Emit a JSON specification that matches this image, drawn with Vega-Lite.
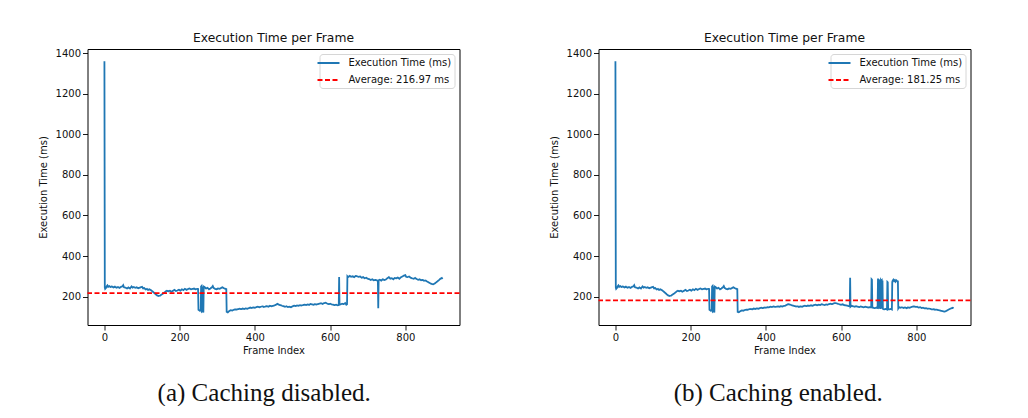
{
  "$schema": "https://vega.github.io/schema/vega-lite/v6.json",
  "padding": {"left": 37.5, "top": 31, "right": 0, "bottom": 0},
  "background": "white",
  "config": {
    "font": "DejaVu Sans",
    "view": {"stroke": "black", "strokeWidth": 1},
    "axis": {"grid": false, "domain": false, "tickColor": "black", "tickSize": 5, "tickWidth": 0.9,
      "labelFont": "DejaVu Sans", "labelFontSize": 10, "labelColor": "#111", "labelPadding": 2,
      "titleFont": "DejaVu Sans", "titleFontSize": 10, "titleFontWeight": "normal", "titleColor": "#111",
      "labelFlush": false, "labelOverlap": false},
    "axisX": {"titlePadding": 3},
    "axisY": {"titlePadding": 7, "format": "d"},
    "title": {"font": "DejaVu Sans", "fontSize": 12.3, "fontWeight": "normal", "color": "#111", "offset": 4},
    "legend": {"orient": "top-right", "offset": 5, "padding": 3, "cornerRadius": 3, "strokeColor": "#d6d6d6",
      "fillColor": "white", "symbolType": "M-2.2,0H2.2", "symbolSize": 100, "symbolStrokeWidth": 1.8,
      "labelFont": "DejaVu Sans", "labelFontSize": 10, "labelColor": "#111", "labelOffset": 14, "rowPadding": 6}
  },
  "datasets": {
    "a": [
      {"frame":0,"ms":1360},{"frame":1,"ms":245},{"frame":2,"ms":238},{"frame":4,"ms":242},{"frame":6,"ms":250},{"frame":8,"ms":255},{"frame":10,"ms":248},{"frame":13,"ms":252},{"frame":16,"ms":247},{"frame":20,"ms":250},{"frame":24,"ms":245},{"frame":28,"ms":249},{"frame":32,"ms":244},{"frame":36,"ms":247},{"frame":40,"ms":243},{"frame":44,"ms":248},{"frame":48,"ms":251},{"frame":50,"ms":256},{"frame":52,"ms":246},{"frame":56,"ms":244},{"frame":60,"ms":240},{"frame":64,"ms":245},{"frame":68,"ms":240},{"frame":72,"ms":250},{"frame":75,"ms":244},{"frame":78,"ms":247},{"frame":82,"ms":243},{"frame":86,"ms":246},{"frame":90,"ms":241},{"frame":94,"ms":244},{"frame":98,"ms":247},{"frame":100,"ms":248},{"frame":103,"ms":240},{"frame":106,"ms":242},{"frame":110,"ms":235},{"frame":113,"ms":238},{"frame":116,"ms":233},{"frame":120,"ms":236},{"frame":124,"ms":231},{"frame":128,"ms":225},{"frame":132,"ms":219},{"frame":136,"ms":212},{"frame":140,"ms":206},{"frame":144,"ms":203},{"frame":148,"ms":205},{"frame":152,"ms":210},{"frame":156,"ms":215},{"frame":160,"ms":221},{"frame":163,"ms":226},{"frame":166,"ms":229},{"frame":170,"ms":226},{"frame":174,"ms":229},{"frame":178,"ms":224},{"frame":182,"ms":228},{"frame":186,"ms":233},{"frame":190,"ms":228},{"frame":194,"ms":230},{"frame":198,"ms":234},{"frame":202,"ms":229},{"frame":206,"ms":236},{"frame":210,"ms":232},{"frame":214,"ms":238},{"frame":218,"ms":233},{"frame":222,"ms":237},{"frame":226,"ms":240},{"frame":230,"ms":236},{"frame":234,"ms":238},{"frame":238,"ms":240},{"frame":242,"ms":236},{"frame":246,"ms":238},{"frame":249,"ms":237},{"frame":250,"ms":135},{"frame":252,"ms":133},{"frame":254,"ms":130},{"frame":256,"ms":134},{"frame":257,"ms":250},{"frame":258,"ms":252},{"frame":259,"ms":128},{"frame":260,"ms":130},{"frame":261,"ms":250},{"frame":262,"ms":126},{"frame":263,"ms":122},{"frame":264,"ms":250},{"frame":266,"ms":248},{"frame":270,"ms":240},{"frame":274,"ms":243},{"frame":278,"ms":236},{"frame":282,"ms":240},{"frame":286,"ms":247},{"frame":288,"ms":252},{"frame":290,"ms":243},{"frame":294,"ms":238},{"frame":298,"ms":236},{"frame":302,"ms":240},{"frame":306,"ms":238},{"frame":310,"ms":242},{"frame":314,"ms":246},{"frame":318,"ms":241},{"frame":322,"ms":238},{"frame":324,"ms":237},{"frame":325,"ms":125},{"frame":328,"ms":122},{"frame":332,"ms":129},{"frame":336,"ms":133},{"frame":340,"ms":131},{"frame":344,"ms":135},{"frame":348,"ms":137},{"frame":352,"ms":136},{"frame":356,"ms":138},{"frame":360,"ms":140},{"frame":364,"ms":138},{"frame":368,"ms":141},{"frame":372,"ms":139},{"frame":376,"ms":142},{"frame":380,"ms":140},{"frame":384,"ms":143},{"frame":388,"ms":146},{"frame":392,"ms":144},{"frame":396,"ms":147},{"frame":400,"ms":145},{"frame":404,"ms":148},{"frame":408,"ms":150},{"frame":412,"ms":147},{"frame":416,"ms":150},{"frame":420,"ms":152},{"frame":424,"ms":149},{"frame":428,"ms":151},{"frame":432,"ms":153},{"frame":436,"ms":150},{"frame":440,"ms":155},{"frame":444,"ms":152},{"frame":448,"ms":154},{"frame":452,"ms":156},{"frame":456,"ms":160},{"frame":460,"ms":164},{"frame":464,"ms":160},{"frame":468,"ms":158},{"frame":472,"ms":155},{"frame":476,"ms":153},{"frame":480,"ms":150},{"frame":484,"ms":152},{"frame":488,"ms":148},{"frame":492,"ms":150},{"frame":496,"ms":147},{"frame":500,"ms":152},{"frame":504,"ms":155},{"frame":508,"ms":153},{"frame":512,"ms":156},{"frame":516,"ms":155},{"frame":520,"ms":158},{"frame":524,"ms":156},{"frame":528,"ms":158},{"frame":532,"ms":160},{"frame":536,"ms":158},{"frame":540,"ms":161},{"frame":544,"ms":159},{"frame":548,"ms":164},{"frame":552,"ms":162},{"frame":556,"ms":160},{"frame":560,"ms":163},{"frame":564,"ms":161},{"frame":568,"ms":163},{"frame":572,"ms":165},{"frame":576,"ms":167},{"frame":580,"ms":164},{"frame":584,"ms":168},{"frame":588,"ms":170},{"frame":592,"ms":166},{"frame":596,"ms":163},{"frame":600,"ms":165},{"frame":604,"ms":162},{"frame":608,"ms":160},{"frame":612,"ms":158},{"frame":616,"ms":160},{"frame":620,"ms":157},{"frame":623,"ms":158},{"frame":624,"ms":296},{"frame":625,"ms":160},{"frame":628,"ms":162},{"frame":632,"ms":165},{"frame":636,"ms":163},{"frame":640,"ms":168},{"frame":643,"ms":160},{"frame":645,"ms":162},{"frame":646,"ms":300},{"frame":648,"ms":296},{"frame":652,"ms":302},{"frame":656,"ms":298},{"frame":660,"ms":300},{"frame":664,"ms":296},{"frame":668,"ms":302},{"frame":672,"ms":300},{"frame":676,"ms":297},{"frame":680,"ms":299},{"frame":684,"ms":293},{"frame":688,"ms":296},{"frame":692,"ms":290},{"frame":696,"ms":293},{"frame":700,"ms":288},{"frame":704,"ms":286},{"frame":708,"ms":282},{"frame":712,"ms":285},{"frame":716,"ms":280},{"frame":720,"ms":282},{"frame":724,"ms":280},{"frame":727,"ms":278},{"frame":728,"ms":143},{"frame":729,"ms":280},{"frame":732,"ms":283},{"frame":736,"ms":279},{"frame":740,"ms":285},{"frame":744,"ms":282},{"frame":748,"ms":284},{"frame":752,"ms":290},{"frame":756,"ms":296},{"frame":760,"ms":288},{"frame":764,"ms":290},{"frame":768,"ms":285},{"frame":772,"ms":292},{"frame":776,"ms":290},{"frame":780,"ms":294},{"frame":784,"ms":288},{"frame":788,"ms":295},{"frame":792,"ms":299},{"frame":796,"ms":303},{"frame":800,"ms":306},{"frame":802,"ms":298},{"frame":806,"ms":296},{"frame":810,"ms":299},{"frame":814,"ms":293},{"frame":818,"ms":290},{"frame":822,"ms":288},{"frame":826,"ms":292},{"frame":830,"ms":287},{"frame":834,"ms":283},{"frame":838,"ms":285},{"frame":842,"ms":280},{"frame":846,"ms":282},{"frame":850,"ms":278},{"frame":854,"ms":279},{"frame":858,"ms":274},{"frame":862,"ms":270},{"frame":866,"ms":266},{"frame":870,"ms":262},{"frame":874,"ms":260},{"frame":878,"ms":264},{"frame":882,"ms":270},{"frame":886,"ms":276},{"frame":890,"ms":282},{"frame":894,"ms":289},{"frame":897,"ms":292},{"frame":899,"ms":287}
    ],
    "b": [
      {"frame":0,"ms":1360},{"frame":1,"ms":245},{"frame":2,"ms":238},{"frame":4,"ms":242},{"frame":6,"ms":250},{"frame":8,"ms":255},{"frame":10,"ms":248},{"frame":13,"ms":252},{"frame":16,"ms":247},{"frame":20,"ms":250},{"frame":24,"ms":245},{"frame":28,"ms":249},{"frame":32,"ms":244},{"frame":36,"ms":247},{"frame":40,"ms":243},{"frame":44,"ms":248},{"frame":48,"ms":251},{"frame":50,"ms":256},{"frame":52,"ms":246},{"frame":56,"ms":244},{"frame":60,"ms":240},{"frame":64,"ms":245},{"frame":68,"ms":240},{"frame":72,"ms":250},{"frame":75,"ms":244},{"frame":78,"ms":247},{"frame":82,"ms":243},{"frame":86,"ms":246},{"frame":90,"ms":241},{"frame":94,"ms":244},{"frame":98,"ms":247},{"frame":100,"ms":248},{"frame":103,"ms":240},{"frame":106,"ms":242},{"frame":110,"ms":235},{"frame":113,"ms":238},{"frame":116,"ms":233},{"frame":120,"ms":236},{"frame":124,"ms":231},{"frame":128,"ms":225},{"frame":132,"ms":219},{"frame":136,"ms":212},{"frame":140,"ms":206},{"frame":144,"ms":203},{"frame":148,"ms":205},{"frame":152,"ms":210},{"frame":156,"ms":215},{"frame":160,"ms":221},{"frame":163,"ms":226},{"frame":166,"ms":229},{"frame":170,"ms":226},{"frame":174,"ms":229},{"frame":178,"ms":224},{"frame":182,"ms":228},{"frame":186,"ms":233},{"frame":190,"ms":228},{"frame":194,"ms":230},{"frame":198,"ms":234},{"frame":202,"ms":229},{"frame":206,"ms":236},{"frame":210,"ms":232},{"frame":214,"ms":238},{"frame":218,"ms":233},{"frame":222,"ms":237},{"frame":226,"ms":240},{"frame":230,"ms":236},{"frame":234,"ms":238},{"frame":238,"ms":240},{"frame":242,"ms":236},{"frame":246,"ms":238},{"frame":249,"ms":237},{"frame":250,"ms":135},{"frame":252,"ms":133},{"frame":254,"ms":130},{"frame":256,"ms":134},{"frame":257,"ms":250},{"frame":258,"ms":252},{"frame":259,"ms":128},{"frame":260,"ms":130},{"frame":261,"ms":250},{"frame":262,"ms":126},{"frame":263,"ms":122},{"frame":264,"ms":250},{"frame":266,"ms":248},{"frame":270,"ms":240},{"frame":274,"ms":243},{"frame":278,"ms":236},{"frame":282,"ms":240},{"frame":286,"ms":247},{"frame":288,"ms":252},{"frame":290,"ms":243},{"frame":294,"ms":238},{"frame":298,"ms":236},{"frame":302,"ms":240},{"frame":306,"ms":238},{"frame":310,"ms":242},{"frame":314,"ms":246},{"frame":318,"ms":241},{"frame":322,"ms":238},{"frame":324,"ms":237},{"frame":325,"ms":125},{"frame":328,"ms":123},{"frame":332,"ms":128},{"frame":336,"ms":132},{"frame":340,"ms":130},{"frame":344,"ms":134},{"frame":348,"ms":136},{"frame":352,"ms":135},{"frame":356,"ms":138},{"frame":360,"ms":139},{"frame":364,"ms":137},{"frame":368,"ms":141},{"frame":372,"ms":139},{"frame":376,"ms":142},{"frame":380,"ms":140},{"frame":384,"ms":143},{"frame":388,"ms":145},{"frame":392,"ms":143},{"frame":396,"ms":146},{"frame":400,"ms":145},{"frame":404,"ms":148},{"frame":408,"ms":147},{"frame":412,"ms":150},{"frame":416,"ms":148},{"frame":420,"ms":151},{"frame":424,"ms":149},{"frame":428,"ms":150},{"frame":432,"ms":152},{"frame":436,"ms":150},{"frame":440,"ms":153},{"frame":444,"ms":151},{"frame":448,"ms":154},{"frame":452,"ms":155},{"frame":456,"ms":160},{"frame":460,"ms":163},{"frame":464,"ms":160},{"frame":468,"ms":158},{"frame":472,"ms":156},{"frame":476,"ms":153},{"frame":480,"ms":151},{"frame":484,"ms":152},{"frame":488,"ms":149},{"frame":492,"ms":152},{"frame":496,"ms":150},{"frame":500,"ms":153},{"frame":504,"ms":155},{"frame":508,"ms":153},{"frame":512,"ms":156},{"frame":516,"ms":154},{"frame":520,"ms":157},{"frame":524,"ms":155},{"frame":528,"ms":158},{"frame":532,"ms":160},{"frame":536,"ms":157},{"frame":540,"ms":160},{"frame":544,"ms":158},{"frame":548,"ms":162},{"frame":552,"ms":160},{"frame":556,"ms":158},{"frame":560,"ms":161},{"frame":564,"ms":160},{"frame":568,"ms":163},{"frame":572,"ms":165},{"frame":576,"ms":163},{"frame":580,"ms":166},{"frame":584,"ms":168},{"frame":588,"ms":167},{"frame":592,"ms":164},{"frame":596,"ms":162},{"frame":600,"ms":160},{"frame":604,"ms":162},{"frame":608,"ms":158},{"frame":612,"ms":157},{"frame":616,"ms":155},{"frame":620,"ms":153},{"frame":623,"ms":152},{"frame":624,"ms":293},{"frame":625,"ms":150},{"frame":628,"ms":155},{"frame":632,"ms":152},{"frame":636,"ms":150},{"frame":640,"ms":153},{"frame":644,"ms":150},{"frame":648,"ms":148},{"frame":652,"ms":151},{"frame":656,"ms":149},{"frame":660,"ms":147},{"frame":664,"ms":150},{"frame":668,"ms":148},{"frame":672,"ms":146},{"frame":676,"ms":148},{"frame":680,"ms":147},{"frame":681,"ms":285},{"frame":682,"ms":283},{"frame":683,"ms":146},{"frame":686,"ms":145},{"frame":690,"ms":143},{"frame":694,"ms":146},{"frame":697,"ms":144},{"frame":698,"ms":280},{"frame":699,"ms":278},{"frame":700,"ms":140},{"frame":701,"ms":281},{"frame":702,"ms":279},{"frame":703,"ms":142},{"frame":704,"ms":280},{"frame":705,"ms":139},{"frame":706,"ms":281},{"frame":707,"ms":278},{"frame":708,"ms":280},{"frame":709,"ms":141},{"frame":710,"ms":279},{"frame":711,"ms":140},{"frame":714,"ms":137},{"frame":718,"ms":139},{"frame":722,"ms":136},{"frame":723,"ms":272},{"frame":724,"ms":270},{"frame":725,"ms":138},{"frame":728,"ms":137},{"frame":732,"ms":139},{"frame":735,"ms":136},{"frame":736,"ms":272},{"frame":737,"ms":278},{"frame":739,"ms":283},{"frame":741,"ms":276},{"frame":743,"ms":281},{"frame":745,"ms":274},{"frame":747,"ms":280},{"frame":749,"ms":277},{"frame":751,"ms":275},{"frame":752,"ms":142},{"frame":754,"ms":148},{"frame":758,"ms":145},{"frame":762,"ms":147},{"frame":766,"ms":144},{"frame":770,"ms":146},{"frame":774,"ms":143},{"frame":778,"ms":147},{"frame":782,"ms":145},{"frame":786,"ms":148},{"frame":790,"ms":150},{"frame":794,"ms":152},{"frame":798,"ms":149},{"frame":802,"ms":150},{"frame":806,"ms":146},{"frame":810,"ms":148},{"frame":814,"ms":144},{"frame":818,"ms":145},{"frame":822,"ms":142},{"frame":826,"ms":143},{"frame":830,"ms":140},{"frame":834,"ms":141},{"frame":838,"ms":139},{"frame":842,"ms":137},{"frame":846,"ms":138},{"frame":850,"ms":135},{"frame":854,"ms":136},{"frame":858,"ms":133},{"frame":862,"ms":132},{"frame":866,"ms":130},{"frame":870,"ms":128},{"frame":874,"ms":126},{"frame":878,"ms":128},{"frame":882,"ms":132},{"frame":886,"ms":136},{"frame":890,"ms":140},{"frame":894,"ms":143},{"frame":897,"ms":145},{"frame":899,"ms":142}
    ],
    "avgA": [{"avg": 216.97}],
    "avgB": [{"avg": 181.25}]
  },
  "spacing": 87,
  "resolve": {"scale": {"color": "independent", "strokeDash": "independent"}, "legend": {"color": "independent", "strokeDash": "independent"}},
  "hconcat": [
    {
      "title": {"text": "(a) Caching disabled.", "orient": "bottom", "anchor": "middle", "font": "Liberation Serif", "fontSize": 25, "fontWeight": "normal", "color": "#111", "offset": 25, "dx": 15},
      "resolve": {"scale": {"color": "independent", "strokeDash": "independent"}, "legend": {"color": "independent", "strokeDash": "independent"}},
      "vconcat": [
        {
          "title": "Execution Time per Frame",
          "width": 372, "height": 276,
          "layer": [
            {
              "data": {"name": "a"},
              "mark": {"type": "line", "strokeWidth": 1.8},
              "encoding": {
                "x": {"field": "frame", "type": "quantitative", "scale": {"domain": [-45, 944], "nice": false, "zero": false}, "axis": {"title": "Frame Index", "values": [0, 200, 400, 600, 800]}},
                "y": {"field": "ms", "type": "quantitative", "scale": {"domain": [60, 1420], "nice": false, "zero": false}, "axis": {"title": "Execution Time (ms)", "values": [200, 400, 600, 800, 1000, 1200, 1400]}},
                "color": {"datum": "Execution Time (ms)", "type": "nominal", "scale": {"domain": ["Execution Time (ms)", "Average: 216.97 ms"], "range": ["#1f77b4", "#ff0000"]}, "legend": {"title": null}},
                "strokeDash": {"datum": "Execution Time (ms)", "type": "nominal", "scale": {"domain": ["Execution Time (ms)", "Average: 216.97 ms"], "range": [[1, 0], [5, 2.5]]}, "legend": {"title": null}}
              }
            },
            {
              "data": {"name": "avgA"},
              "mark": {"type": "rule", "strokeWidth": 1.6},
              "encoding": {
                "y": {"field": "avg", "type": "quantitative"},
                "color": {"datum": "Average: 216.97 ms", "type": "nominal"},
                "strokeDash": {"datum": "Average: 216.97 ms", "type": "nominal"}
              }
            }
          ]
        }
      ]
    },
    {
      "title": {"text": "(b) Caching enabled.", "orient": "bottom", "anchor": "middle", "font": "Liberation Serif", "fontSize": 25, "fontWeight": "normal", "color": "#111", "offset": 25, "dx": 18},
      "resolve": {"scale": {"color": "independent", "strokeDash": "independent"}, "legend": {"color": "independent", "strokeDash": "independent"}},
      "vconcat": [
        {
          "title": "Execution Time per Frame",
          "width": 372, "height": 276,
          "layer": [
            {
              "data": {"name": "b"},
              "mark": {"type": "line", "strokeWidth": 1.8},
              "encoding": {
                "x": {"field": "frame", "type": "quantitative", "scale": {"domain": [-45, 944], "nice": false, "zero": false}, "axis": {"title": "Frame Index", "values": [0, 200, 400, 600, 800]}},
                "y": {"field": "ms", "type": "quantitative", "scale": {"domain": [60, 1420], "nice": false, "zero": false}, "axis": {"title": "Execution Time (ms)", "values": [200, 400, 600, 800, 1000, 1200, 1400]}},
                "color": {"datum": "Execution Time (ms)", "type": "nominal", "scale": {"domain": ["Execution Time (ms)", "Average: 181.25 ms"], "range": ["#1f77b4", "#ff0000"]}, "legend": {"title": null}},
                "strokeDash": {"datum": "Execution Time (ms)", "type": "nominal", "scale": {"domain": ["Execution Time (ms)", "Average: 181.25 ms"], "range": [[1, 0], [5, 2.5]]}, "legend": {"title": null}}
              }
            },
            {
              "data": {"name": "avgB"},
              "mark": {"type": "rule", "strokeWidth": 1.6},
              "encoding": {
                "y": {"field": "avg", "type": "quantitative"},
                "color": {"datum": "Average: 181.25 ms", "type": "nominal"},
                "strokeDash": {"datum": "Average: 181.25 ms", "type": "nominal"}
              }
            }
          ]
        }
      ]
    }
  ]
}
